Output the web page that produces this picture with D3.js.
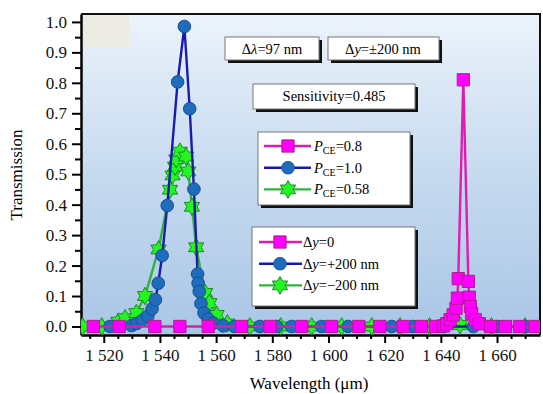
<!DOCTYPE html>
<html>
<head>
<meta charset="utf-8">
<script src="https://cdn.jsdelivr.net/npm/d3@7/dist/d3.min.js"></script>
<style>
  body { margin: 0; background: #fff; }
  svg text { font-family: "Liberation Serif", "Times New Roman", serif; }
</style>
</head>
<body>
<svg id="chart" width="543" height="394"></svg>
<script>
// wavelength (nm) and transmission for each curve
var magX = [1516.3, 1525.5, 1538.2, 1547.1, 1557.2, 1569.1, 1579.2, 1590.5, 1601.1, 1610.8, 1618.3, 1626.6, 1633.0, 1638.0,
  1640.9, 1642.1, 1643.3, 1644.4, 1645.4, 1645.9, 1646.2, 1648.0, 1649.8, 1650.1, 1650.5, 1651.0, 1652.2, 1653.7, 1657.7, 1663.0, 1668.0, 1673.5];
var magY = [0, 0, 0, 0, 0, 0, 0, 0, 0, 0, 0, 0, 0, 0,
  0.002, 0.009, 0.022, 0.038, 0.060, 0.093, 0.157, 0.81, 0.148, 0.096, 0.066, 0.042, 0.022, 0.009, 0, 0, 0, 0];

var blueX = [1522.2, 1529.9, 1531.7, 1533.7, 1535.7, 1537.2, 1538.4, 1539.4, 1540.8, 1542.6, 1546.3, 1548.7, 1550.6, 1552.1,
  1553.4, 1553.6, 1554.0, 1554.6, 1555.7, 1557.2, 1559.0, 1562.5, 1566.5, 1575.6, 1581.6, 1586.9, 1597.6, 1607.0, 1622.5, 1630.0, 1641.0, 1651.6, 1660.0, 1670.0];
var blueY = [0, 0.003, 0.010, 0.020, 0.034, 0.058, 0.088, 0.142, 0.233, 0.397, 0.803, 0.985, 0.715, 0.451,
  0.172, 0.142, 0.115, 0.075, 0.044, 0.024, 0.011, 0.002, 0, 0, 0, 0, 0, 0, 0, 0, 0, 0, 0, 0];

var greenX = [1512.5, 1519.3, 1525.2, 1527.6, 1531.6, 1534.7, 1539.5, 1543.6, 1544.5, 1545.4, 1545.8, 1547.1, 1549.3, 1550.1,
  1551.4, 1552.9, 1556.1, 1557.6, 1560.2, 1564.0, 1572.0, 1583.0, 1594.0, 1604.7, 1615.4, 1625.5, 1636.0, 1646.8, 1658.0, 1670.0];
var greenY = [0, 0, 0.016, 0.027, 0.044, 0.100, 0.253, 0.449, 0.496, 0.525, 0.549, 0.574, 0.558, 0.509,
  0.393, 0.260, 0.110, 0.077, 0.038, 0.010, 0, 0, 0, 0, 0, 0, 0, 0.005, 0, 0];

var xTicks = [1520, 1540, 1560, 1580, 1600, 1620, 1640, 1660];
var yTicks = [0, 0.1, 0.2, 0.3, 0.4, 0.5, 0.6, 0.7, 0.8, 0.9, 1.0];

var legendP = ["0.8", "1.0", "0.58"];
var legendDy = ["=0", "=+200 nm", "=\u2212200 nm"];

var serif = "'Liberation Serif', 'Times New Roman', serif";
var svg = d3.select("#chart");
var pL = 81, pR = 540, pT = 14, pB = 335;

var x = d3.scaleLinear().domain([1511.9, 1675.3]).range([pL, pR]);
var y = d3.scaleLinear().domain([-0.028, 1.026]).range([pB, pT]);

// plot background
var defs = svg.append("defs");
var grad = defs.append("linearGradient").attr("id", "bg")
  .attr("x1", 0).attr("y1", 0).attr("x2", 0).attr("y2", 1);
grad.append("stop").attr("offset", "0%").attr("stop-color", "#ecf3fb");
grad.append("stop").attr("offset", "50%").attr("stop-color", "#c6daef");
grad.append("stop").attr("offset", "100%").attr("stop-color", "#a9c6e6");
defs.append("clipPath").attr("id", "clip").append("rect")
  .attr("x", pL).attr("y", pT).attr("width", pR - pL).attr("height", pB - pT);

svg.append("rect").attr("x", pL).attr("y", pT).attr("width", pR - pL).attr("height", pB - pT)
  .attr("fill", "url(#bg)");
svg.append("rect").attr("x", pL + 1).attr("y", pT + 1).attr("width", 47).attr("height", 32).attr("fill", "#ecebe3");

// axes
svg.append("g").attr("transform", "translate(" + pL + ",0)")
  .call(d3.axisLeft(y).tickValues(yTicks).tickSize(9).tickSizeOuter(0).tickPadding(5).tickFormat(d3.format(".1f")));
svg.append("g").attr("transform", "translate(" + pL + ",0)")
  .call(d3.axisLeft(y).tickValues(yTicks.slice(0, 10).map(function(d) { return d + 0.05; })).tickSize(6).tickFormat(""))
  .select(".domain").remove();

svg.append("g").attr("transform", "translate(0," + pB + ")")
  .call(d3.axisBottom(x).tickValues(xTicks).tickSize(8).tickSizeOuter(0).tickPadding(6)
    .tickFormat(function(d) { return "1 " + String(d).slice(1); }));
svg.append("g").attr("transform", "translate(0," + pB + ")")
  .call(d3.axisBottom(x).tickValues(d3.range(1515, 1675, 5).filter(function(d) { return d % 20 != 0; })).tickSize(4).tickFormat(""))
  .select(".domain").remove();

svg.selectAll("g").attr("font-family", serif);
svg.selectAll(".tick line").attr("stroke", "#000").attr("stroke-width", 2);
svg.selectAll(".domain").attr("stroke", "#000").attr("stroke-width", 2.5);
svg.selectAll(".tick text").attr("font-size", 17).attr("fill", "#111").attr("font-family", serif);

// frame top and right
svg.append("path").attr("d", "M" + pL + "," + pT + "H" + pR + "V" + pB)
  .attr("fill", "none").attr("stroke", "#111").attr("stroke-width", 2);

svg.append("text").attr("transform", "translate(22,175) rotate(-90)").attr("text-anchor", "middle")
  .attr("font-size", 17).attr("font-family", serif).text("Transmission");
svg.append("text").attr("x", 309).attr("y", 389).attr("text-anchor", "middle")
  .attr("font-size", 17).attr("font-family", serif).text("Wavelength (\u03bcm)");

// six pointed star marker
var hexagram = {
  draw: function(ctx, size) {
    var r = Math.sqrt(size / 2.2), ri = r / Math.sqrt(3);
    for (var i = 0; i < 12; i++) {
      var a = Math.PI / 6 * i - Math.PI / 2, rr = i % 2 ? ri : r;
      if (i == 0) ctx.moveTo(rr * Math.cos(a), rr * Math.sin(a));
      else ctx.lineTo(rr * Math.cos(a), rr * Math.sin(a));
    }
    ctx.closePath();
  }
};

var series = [
  {xs: greenX, ys: greenY, line: "#2fb43c", fill: "#22f522", stroke: "#1b8a22", sym: d3.symbol().type(hexagram).size(170)},
  {xs: blueX, ys: blueY, line: "#1a1ab0", fill: "#1f6cbc", stroke: "#17518c", sym: d3.symbol().type(d3.symbolCircle).size(125)},
  {xs: magX, ys: magY, line: "#e01cb0", fill: "#ff00ff", stroke: "#b01c8c", sym: d3.symbol().type(d3.symbolSquare).size(150)}
];

var plot = svg.append("g").attr("clip-path", "url(#clip)");
series.forEach(function(s) {
  var pts = s.xs.map(function(v, i) { return [v, s.ys[i]]; });
  plot.append("path").datum(pts)
    .attr("fill", "none").attr("stroke", s.line).attr("stroke-width", 2.4)
    .attr("d", d3.line().x(function(d) { return x(d[0]); }).y(function(d) { return y(d[1]); }));
  plot.selectAll(null).data(pts).enter().append("path")
    .attr("transform", function(d) { return "translate(" + x(d[0]) + "," + y(d[1]) + ")"; })
    .attr("d", s.sym).attr("fill", s.fill).attr("stroke", s.stroke).attr("stroke-width", 1);
});

// boxes with drop shadow
function box(x0, y0, w, h) {
  svg.append("rect").attr("x", x0 + 3).attr("y", y0 + 3).attr("width", w).attr("height", h).attr("fill", "#111");
  svg.append("rect").attr("x", x0).attr("y", y0).attr("width", w).attr("height", h)
    .attr("fill", "#fff").attr("stroke", "#777").attr("stroke-width", 1);
}
function richText(tx, ty, parts, anchor) {
  var t = svg.append("text").attr("x", tx).attr("y", ty).attr("font-size", 14.5)
    .attr("font-family", serif).attr("text-anchor", anchor || "start");
  parts.forEach(function(p) {
    var ts = t.append("tspan").text(p.t);
    if (p.i) ts.attr("font-style", "italic");
    if (p.sub) ts.attr("font-size", 10).attr("dy", 3);
    if (p.up) ts.attr("dy", -3);
  });
  return t;
}

box(225, 37, 94, 23);
richText(272, 53.5, [{t: "\u0394"}, {t: "\u03bb", i: true}, {t: "=97 nm"}], "middle");
box(328, 37, 111, 23);
richText(383, 53.5, [{t: "\u0394"}, {t: "y", i: true}, {t: "=\u00b1200 nm"}], "middle");
box(253, 84, 162, 25);
richText(334, 101, [{t: "Sensitivity=0.485"}], "middle");

// legends
var order = [2, 1, 0]; // magenta, blue, green
box(258, 132, 152, 73);
order.forEach(function(si, i) {
  var s = series[si], ry = 146 + i * 21.7;
  svg.append("line").attr("x1", 264).attr("x2", 311).attr("y1", ry).attr("y2", ry)
    .attr("stroke", s.line).attr("stroke-width", 2.4);
  svg.append("path").attr("transform", "translate(288," + ry + ")").attr("d", s.sym)
    .attr("fill", s.fill).attr("stroke", s.stroke);
  richText(314, ry + 5, [{t: "P", i: true}, {t: "CE", sub: true}, {t: "=" + legendP[i], up: true}]);
});

box(252, 227, 163, 79);
order.forEach(function(si, i) {
  var s = series[si], ry = 242 + i * 21.7;
  svg.append("line").attr("x1", 259).attr("x2", 302).attr("y1", ry).attr("y2", ry)
    .attr("stroke", s.line).attr("stroke-width", 2.4);
  svg.append("path").attr("transform", "translate(280," + ry + ")").attr("d", s.sym)
    .attr("fill", s.fill).attr("stroke", s.stroke);
  richText(303, ry + 5, [{t: "\u0394"}, {t: "y", i: true}, {t: legendDy[i]}]);
});
</script>
</body>
</html>
